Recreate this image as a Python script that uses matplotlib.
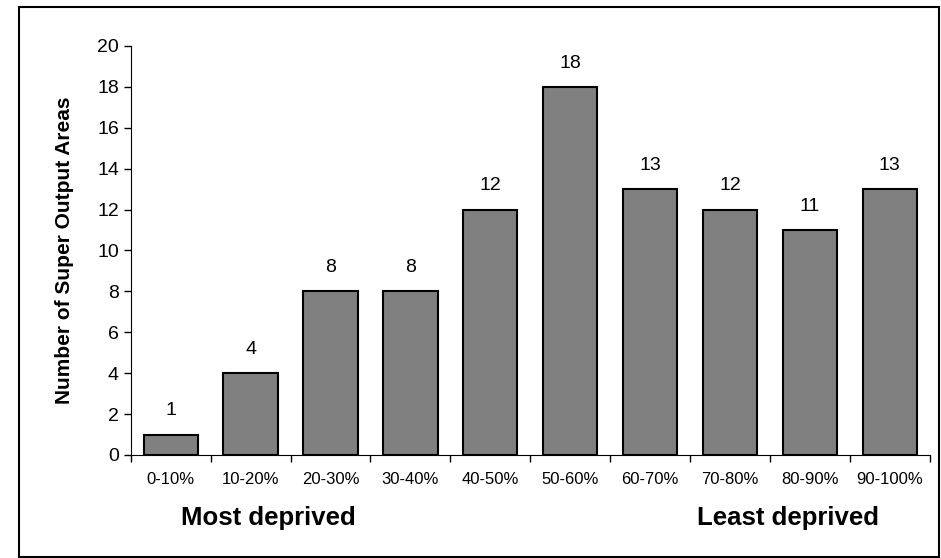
import matplotlib.pyplot as plt
from matplotlib.patches import Rectangle

plt.rcParams['font.family'] = ['Liberation Sans', 'DejaVu Sans']

# Data
categories = ["0-10%", "10-20%", "20-30%", "30-40%", "40-50%",
              "50-60%", "60-70%", "70-80%", "80-90%", "90-100%"]
counts = [1, 4, 8, 8, 12, 18, 13, 12, 11, 13]

fig = plt.figure(figsize=(9.41, 5.58), dpi=100)
ax = fig.add_axes([0.139, 0.1846, 0.849, 0.733])

x = range(len(categories))
bars = ax.bar(x, counts, width=0.68, color="#808080", edgecolor="black", linewidth=1.5)

# value labels above bars
for xi, v in zip(x, counts):
    ax.annotate(str(v), (xi, v), xytext=(0, 11), textcoords="offset points",
                ha="center", va="bottom", fontsize=14)

ax.set_xlim(-0.5, len(categories) - 0.5)
ax.set_ylim(0, 20)
ax.set_yticks(range(0, 21, 2))
ax.tick_params(axis="y", labelsize=14, direction="out", length=5, width=1)

# category labels between boundary ticks
ax.set_xticks([i - 0.5 for i in range(len(categories) + 1)])
ax.set_xticklabels([])
ax.tick_params(axis="x", direction="out", length=5, width=1)
ax.set_xticks(list(x), minor=True)
ax.set_xticklabels(categories, minor=True, fontsize=12)
ax.tick_params(axis="x", which="minor", length=0, pad=12)

ax.spines["top"].set_visible(False)
ax.spines["right"].set_visible(False)
ax.set_ylabel("Number of Super Output Areas", fontsize=15, fontweight="bold")
ax.yaxis.set_label_coords(-0.071, 0.5)

fig.text(268 / 941, 1 - 518 / 558, "Most deprived", ha="center", va="center",
         fontsize=18.5, fontweight="bold")
fig.text(788 / 941, 1 - 518 / 558, "Least deprived", ha="center", va="center",
         fontsize=18.5, fontweight="bold")

# outer border
fig.patches.append(Rectangle((19 / 941, 0.002), 1 - 19 / 941 - 0.002, 1 - 7 / 558 - 0.002,
                             transform=fig.transFigure, fill=False,
                             edgecolor="black", linewidth=1.5))

fig.savefig("out.png", dpi=100)
